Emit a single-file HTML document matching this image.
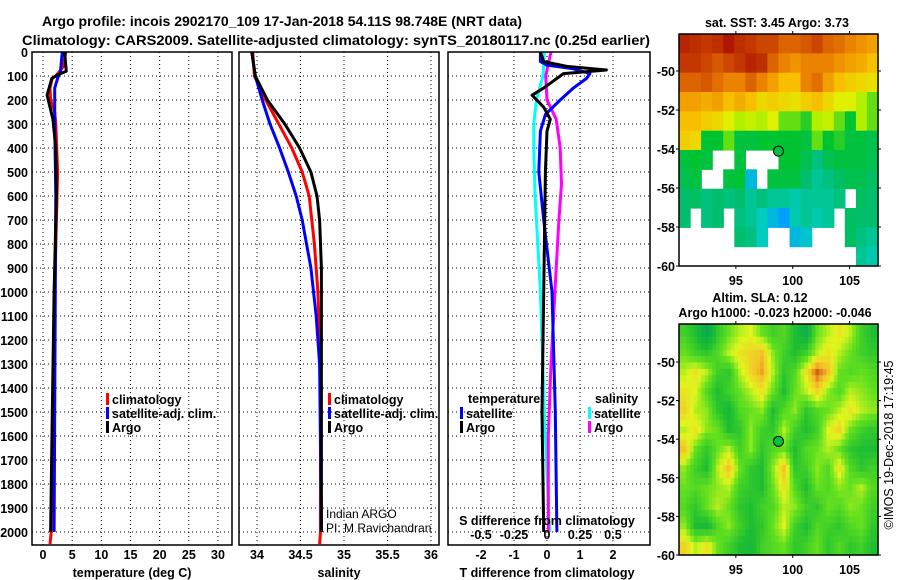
<!DOCTYPE html>
<html><head><meta charset="utf-8"><style>
body{margin:0;background:#fff;}
svg{display:block;font-family:"Liberation Sans",sans-serif;}
</style></head><body>
<svg id="c" width="900" height="580" viewBox="0 0 900 580"></svg>
<script>
// ---- data ----
const tArgoD=[0,80,95,110,180,280,400,600,1000,1500,2000];
const tArgoV=[3.7,4.0,2.5,1.5,0.7,1.7,2.2,2.3,1.9,1.6,1.3];
const tClimD=[0,60,100,110,150,200,250,300,500,1000,2000,2050];
const tClimV=[3.9,3.5,2.2,1.6,1.2,1.3,2.0,2.2,2.5,2.0,1.4,1.2];
const tSatD=[0,80,110,150,300,600,1000,2000];
const tSatV=[3.3,3.0,2.5,2.0,2.0,2.2,2.1,1.9];
const sArgoD=[0,100,200,300,400,500,600,700,900,1200,2000];
const sArgoV=[33.94,33.98,34.12,34.32,34.49,34.62,34.69,34.72,34.74,34.74,34.74];
const sClimD=[0,100,200,300,400,500,600,800,1000,1300,2000,2050];
const sClimV=[33.95,33.97,34.10,34.25,34.40,34.52,34.60,34.66,34.70,34.73,34.73,34.72];
const sSatD=[0,100,200,300,400,500,600,700,900,1100,1300,2000];
const sSatV=[33.94,33.98,34.06,34.15,34.26,34.36,34.45,34.52,34.62,34.68,34.72,34.74];
const dTArgoD=[0,40,60,75,90,120,150,180,230,280,330,500,1000,1500,2000];
const dTArgoV=[-0.2,-0.1,0.6,1.8,0.5,0.2,-0.1,-0.45,-0.1,0.1,0.0,-0.05,-0.1,-0.15,-0.1];
const dTSatD=[0,40,55,70,90,110,150,200,260,330,500,700,1000,1500,2000];
const dTSatV=[-0.2,-0.2,0.0,0.8,1.3,1.2,0.8,0.4,-0.05,-0.2,-0.25,-0.1,0.15,0.25,0.3];
const dSArgoD=[0,100,200,280,400,550,700,1000,1300,1600,2000];
const dSArgoV=[0.03,-0.01,0.0,0.07,0.10,0.11,0.09,0.06,0.03,0.01,0.01];
const dSSatD=[0,100,200,300,400,600,800,1000,1500,2000];
const dSSatV=[-0.02,-0.03,-0.08,-0.10,-0.10,-0.09,-0.07,-0.05,-0.02,0.02];
const depthTicks=[0,100,200,300,400,500,600,700,800,900,1000,1100,1200,1300,1400,1500,1600,1700,1800,1900,2000];
const tempTicks=[0,5,10,15,20,25,30];
const salTicks=[34,34.5,35,35.5,36];
const salTickLabels=["34","34.5","35","35.5","36"];
const tdTicks=[-2,-1,0,1,2];
const sdTicks=[-0.5,-0.25,0,0.25,0.5];
const sdTickLabels=["-0.5","-0.25","0","0.25","0.5"];
const sst=[
[0.08,0.1,0.12,0.1,0.05,0.1,0.12,0.15,0.15,0.2,0.2,0.18,0.15,0.2,0.22,0.25,0.28,0.3],
[0.12,0.12,0.15,0.18,0.15,0.12,0.08,0.1,0.2,0.25,0.28,0.25,0.25,0.25,0.28,0.3,0.32,0.35],
[0.2,0.2,0.18,0.22,0.25,0.25,0.2,0.25,0.3,0.35,0.35,0.25,0.22,0.3,0.35,0.38,0.4,0.42],
[0.3,0.3,0.32,0.3,0.35,0.32,0.35,0.4,0.38,0.4,0.42,0.38,0.35,0.4,0.45,0.45,0.5,0.55],
[0.35,0.35,0.38,0.4,0.45,0.5,0.48,0.5,0.45,0.55,0.55,0.58,0.5,0.48,0.55,0.6,0.5,0.55],
[0.38,0.4,0.6,0.6,0.55,0.62,0.62,0.6,0.6,0.6,0.6,0.62,0.55,0.6,0.58,0.62,0.62,0.65],
[0.62,0.6,0.62,-1,-1,0.62,-1,-1,-1,0.6,0.6,0.65,0.72,0.65,0.62,0.62,0.62,0.65],
[0.65,0.62,-1,-1,0.62,0.6,0.85,-1,0.62,0.62,0.62,0.7,0.75,0.72,0.68,0.65,0.65,0.68],
[0.7,0.68,0.72,0.7,0.72,0.7,0.75,0.72,0.75,0.75,0.78,0.75,0.75,0.75,0.72,-1,0.68,0.7],
[0.7,-1,0.72,0.7,-1,0.72,0.75,0.8,0.85,0.9,0.78,0.75,0.78,0.75,-1,0.68,0.7,0.7],
[-1,-1,-1,-1,-1,0.7,0.72,0.8,-1,-1,0.85,0.82,-1,-1,-1,0.68,0.72,0.75],
[-1,-1,-1,-1,-1,-1,-1,-1,-1,-1,-1,-1,-1,-1,-1,-1,0.75,0.78]];
const sla=[
[0.4,0.3,0.1,0.35,0.5,0.6,0.65,0.5,0.4,0.45,0.3,0.15,0.5,0.6,0.7,0.6,0.4,0.3],
[0.5,0.4,0.35,0.45,0.6,0.7,0.75,0.8,0.55,0.4,0.3,0.4,0.6,0.7,0.6,0.5,0.4,0.35],
[0.6,0.7,0.6,0.4,0.35,0.6,0.75,0.85,0.6,0.35,0.45,0.7,0.95,0.8,0.5,0.45,0.5,0.45],
[0.7,0.65,0.45,0.3,0.4,0.5,0.6,0.7,0.5,0.3,0.5,0.6,0.75,0.55,0.45,0.6,0.55,0.5],
[0.75,0.6,0.55,0.35,0.25,0.45,0.5,0.55,0.3,0.45,0.55,0.35,0.45,0.5,0.6,0.7,0.6,0.55],
[0.6,0.7,0.55,0.5,0.3,0.35,0.55,0.4,0.35,0.6,0.4,0.3,0.4,0.65,0.75,0.5,0.4,0.35],
[0.8,0.5,0.35,0.5,0.6,0.4,0.55,0.35,0.45,0.5,0.3,0.45,0.5,0.6,0.5,0.35,0.3,0.3],
[0.55,0.4,0.3,0.6,0.8,0.5,0.35,0.3,0.55,0.8,0.35,0.4,0.55,0.45,0.7,0.45,0.35,0.4],
[0.5,0.45,0.5,0.55,0.6,0.4,0.35,0.3,0.5,0.7,0.45,0.3,0.5,0.45,0.55,0.5,0.6,0.45],
[0.45,0.35,0.5,0.6,0.5,0.35,0.3,0.4,0.45,0.6,0.55,0.4,0.35,0.5,0.45,0.55,0.5,0.4],
[0.55,0.3,0.25,0.45,0.55,0.4,0.3,0.35,0.5,0.65,0.4,0.3,0.45,0.4,0.35,0.45,0.5,0.35],
[0.75,0.6,0.7,0.5,0.4,0.3,0.25,0.4,0.45,0.5,0.35,0.4,0.5,0.35,0.45,0.35,0.4,0.3]];
const latTicks=[-50,-52,-54,-56,-58,-60];
const lonTicks=[95,100,105];
const argoLon=98.748, argoLat=-54.11;

// ---- helpers ----
const NS="http://www.w3.org/2000/svg";
const svg=document.getElementById('c');
function mk(tag,at,parent){const e=document.createElementNS(NS,tag);for(const k in at)e.setAttribute(k,at[k]);(parent||svg).appendChild(e);return e;}
function txt(x,y,s,size,anchor,bold,extra){const t=mk('text',Object.assign({x:x,y:y,'font-size':size,'text-anchor':anchor||'start','font-weight':bold?'bold':'normal',fill:'#000'},extra||{}));t.textContent=s;return t;}
const yD=d=>52+d*0.24;
const PB=545;
function panel(x0,x1,name){const r=mk('rect',{x:x0,y:52,width:x1-x0,height:PB-52,fill:'none',stroke:'#000','stroke-width':1.5});

}
function vgrid(x){const l=mk('line',{x1:x,x2:x,y1:52,y2:PB,stroke:'#000','stroke-width':1,'stroke-dasharray':'1,3'});

}
function hgrids(x0,x1){depthTicks.forEach(d=>{const l=mk('line',{x1:x0,x2:x1,y1:yD(d),y2:yD(d),stroke:'#000','stroke-width':1,'stroke-dasharray':'1,3'});

});}
function line(D,V,fx,color,name){const p=mk('polyline',{points:D.map((d,i)=>fx(V[i]).toFixed(1)+','+yD(d).toFixed(1)).join(' '),fill:'none',stroke:color,'stroke-width':3,'stroke-linejoin':'round'});

}
function legItem(x,y,color,label,name){mk('rect',{x:x,y:y-6,width:3,height:12,fill:color});
const t=txt(x+6,y+5,label,12.5,'start',true);

}

// ---- titles ----
let t1=txt(42,26,'Argo profile: incois 2902170_109 17-Jan-2018 54.11S 98.748E (NRT data)',14,'start',true,{textLength:480,lengthAdjust:'spacingAndGlyphs'});


let t2=txt(22,45,'Climatology: CARS2009. Satellite-adjusted climatology: synTS_20180117.nc (0.25d earlier)',14,'start',true,{textLength:628,lengthAdjust:'spacingAndGlyphs'});



// ---- panel 1: temperature ----
const xT=v=>43+v*(175/30);
hgrids(32,232);tempTicks.forEach(v=>vgrid(xT(v)));
depthTicks.forEach(d=>{const t=txt(28,yD(d)+5,String(d),12.5,'end',true);

});
tempTicks.forEach(v=>{const t=txt(xT(v),559,String(v),12.5,'middle',true);

});
let xl=txt(132,577,'temperature (deg C)',12.5,'middle',true);


line(tClimD,tClimV,xT,'#ff0000','temp-climatology-line');
line(tSatD,tSatV,xT,'#0000ff','temp-satellite-line');
line(tArgoD,tArgoV,xT,'#000','temp-argo-line');
panel(32,232,'temperature-panel');
legItem(106,399,'#ff0000','climatology','legend-climatology');
legItem(106,413,'#0000ff','satellite-adj. clim.','legend-satellite');
legItem(106,427,'#000','Argo','legend-argo');

// ---- panel 2: salinity ----
const xS=v=>257+(v-34)*87;
hgrids(239,439);salTicks.forEach(v=>vgrid(xS(v)));
salTicks.forEach((v,i)=>{const t=txt(xS(v),559,salTickLabels[i],12.5,'middle',true);

});
xl=txt(339,577,'salinity',12.5,'middle',true);


line(sClimD,sClimV,xS,'#ff0000','sal-climatology-line');
line(sSatD,sSatV,xS,'#0000ff','sal-satellite-line');
line(sArgoD,sArgoV,xS,'#000','sal-argo-line');
panel(239,439,'salinity-panel');
legItem(328,399,'#ff0000','climatology','legend-climatology-2');
legItem(328,413,'#0000ff','satellite-adj. clim.','legend-satellite-2');
legItem(328,427,'#000','Argo','legend-argo-2');
let cr=txt(326,518,'Indian ARGO',12,'start',false);


cr=txt(326,532,'PI: M Ravichandran',12,'start',false);



// ---- panel 3: differences ----
const xdT=v=>547+v*33;
const xdS=v=>547+v*132;
hgrids(448,650);tdTicks.forEach(v=>vgrid(xdT(v)));
line(dSSatD,dSSatV,xdS,'#00ffff','sdiff-satellite-line');
line(dSArgoD,dSArgoV,xdS,'#ff00ff','sdiff-argo-line');
line(dTSatD,dTSatV,xdT,'#0000ff','tdiff-satellite-line');
line(dTArgoD,dTArgoV,xdT,'#000','tdiff-argo-line');
panel(448,650,'difference-panel');
tdTicks.forEach(v=>{const t=txt(xdT(v),559,String(v),12.5,'middle',true);

});
sdTicks.forEach((v,i)=>{const t=txt(xdS(v),539,sdTickLabels[i],12.5,'middle',true);

});
xl=txt(547,525,'S difference from climatology',12.5,'middle',true);


xl=txt(547,577,'T difference from climatology',12.5,'middle',true);


xl=txt(468,403,'temperature',12.5,'start',true);


xl=txt(595,403,'salinity',12.5,'start',true);


legItem(460,413,'#0000ff','satellite','legend-t-satellite');
legItem(460,427,'#000','Argo','legend-t-argo');
legItem(588,413,'#00ffff','satellite','legend-s-satellite');
legItem(588,427,'#ff00ff','Argo','legend-s-argo');

// ---- maps ----
function interp(stops,v){for(let i=1;i<stops.length;i++){if(v<=stops[i][0]){const a=stops[i-1],b=stops[i],f=(v-a[0])/(b[0]-a[0]);const c=[0,1,2].map(k=>Math.round(a[1][k]+(b[1][k]-a[1][k])*f));return 'rgb('+c.join(',')+')';}}const l=stops[stops.length-1][1];return 'rgb('+l.join(',')+')';}
const sstStops=[[0,[160,0,0]],[0.15,[205,70,0]],[0.25,[235,130,0]],[0.35,[248,190,0]],[0.45,[225,240,0]],[0.52,[160,240,0]],[0.6,[0,195,50]],[0.7,[0,190,110]],[0.8,[0,205,190]],[0.9,[0,160,255]],[1,[0,50,210]]];
const slaStops=[[0,[0,160,100]],[0.3,[30,190,50]],[0.5,[100,225,30]],[0.65,[225,245,30]],[0.8,[245,195,40]],[0.9,[230,130,30]],[1,[190,70,20]]];
const MX0=679,MX1=878,lonMin=90,lonMax=107.5;
const xLon=v=>MX0+(v-lonMin)*(MX1-MX0)/(lonMax-lonMin);
function sample(grid,fr,fc){const R=grid.length,C=grid[0].length;
  const r=Math.min(Math.max(fr-0.5,0),R-1),c=Math.min(Math.max(fc-0.5,0),C-1);
  const r0=Math.floor(r),c0=Math.floor(c),r1=Math.min(r0+1,R-1),c1=Math.min(c0+1,C-1),a=r-r0,b=c-c0;
  return grid[r0][c0]*(1-a)*(1-b)+grid[r0][c1]*(1-a)*b+grid[r1][c0]*a*(1-b)+grid[r1][c1]*a*b;}
function drawMap(grid,stops,y0,yLat50,yLat60,name,smooth){
  const g=mk('g',{});
  
  
  const rows=grid.length,cols=grid[0].length,cw=(MX1-MX0)/cols,ch=(yLat60-y0)/rows;
  if(smooth){
    const S=3;
    for(let r=0;r<rows*S;r++)for(let c=0;c<cols*S;c++){
      const v=sample(grid,(r+0.5)/S,(c+0.5)/S);
      const cell=mk('rect',{x:(MX0+c*cw/S).toFixed(1),y:(y0+r*ch/S).toFixed(1),width:(cw/S+0.6).toFixed(1),height:(ch/S+0.6).toFixed(1),fill:interp(stops,v)},g);
      
      
    }
  } else {
  grid.forEach((row,r)=>row.forEach((v,c)=>{if(v<0)return;const cell=mk('rect',{x:(MX0+c*cw).toFixed(1),y:(y0+r*ch).toFixed(1),width:(cw+0.6).toFixed(1),height:(ch+0.6).toFixed(1),fill:interp(stops,v)},g);
  
  }));
  }
  const yLat=v=>yLat50+(-50-v)*(yLat60-yLat50)/10;
  mk('rect',{x:MX0,y:y0,width:MX1-MX0,height:yLat60-y0,fill:'none',stroke:'#000','stroke-width':1.5});
  latTicks.forEach(v=>{mk('line',{x1:MX0-3,x2:MX0,y1:yLat(v),y2:yLat(v),stroke:'#000'});mk('line',{x1:MX1,x2:MX1+3,y1:yLat(v),y2:yLat(v),stroke:'#000'});
    const t=txt(MX0-4,yLat(v)+5,String(v),12.5,'end',true);
    
    });
  lonTicks.forEach(v=>{mk('line',{x1:xLon(v),x2:xLon(v),y1:yLat60,y2:yLat60+3,stroke:'#000'});mk('line',{x1:xLon(v),x2:xLon(v),y1:y0-3,y2:y0,stroke:'#000'});
    const t=txt(xLon(v),yLat60+19,String(v),12.5,'middle',true);
    
    });
  const dot=mk('circle',{cx:xLon(argoLon),cy:yLat(argoLat),r:5,fill:'#00c040',stroke:'#000','stroke-width':1});
  
  
}
drawMap(sst,sstStops,34,71,266,'sst-map',false);
drawMap(sla,slaStops,324,362,555,'sla-map',true);
xl=txt(777,27,'sat. SST: 3.45 Argo: 3.73',12.5,'middle',true);


xl=txt(760,302,'Altim. SLA: 0.12',12.5,'middle',true);


xl=txt(775,317,'Argo h1000: -0.023 h2000: -0.046',12.5,'middle',true);


xl=txt(0,0,'\u00a9IMOS 19-Dec-2018 17:19:45',12.5,'middle',false,{transform:'translate(893,445) rotate(-90)'});


</script>
</body></html>
